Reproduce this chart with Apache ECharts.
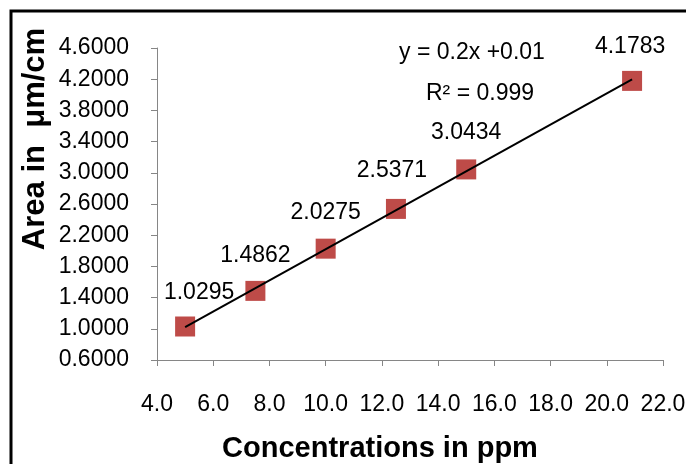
<!DOCTYPE html>
<html><head><meta charset="utf-8">
<script src="https://cdn.jsdelivr.net/npm/echarts@6/dist/echarts.min.js"></script>
<style>html,body{margin:0;padding:0;background:#fff}#c{width:686px;height:464px}</style>
</head><body><div id="c"></div>
<script>
var concentrations = [5.0, 7.5, 10.0, 12.5, 15.0, 20.9];
var areas = [1.0295, 1.4862, 2.0275, 2.5371, 3.0434, 4.1783];
var labelOffsets = [[14, 2], [0, 0], [0, 0], [-4, -3], [0, -1], [-2, 1]];
var equationText = 'y = 0.2x +0.01';
var r2Text = 'R² = 0.999';
var xTitle = 'Concentrations in ppm';
var yTitle = 'Area in  μm/cm';

var n = concentrations.length, sx = 0, sy = 0, sxx = 0, sxy = 0;
for (var i = 0; i < n; i++) { sx += concentrations[i]; sy += areas[i]; sxx += concentrations[i]*concentrations[i]; sxy += concentrations[i]*areas[i]; }
var slope = (n*sxy - sx*sy) / (n*sxx - sx*sx), icpt = (sy - slope*sx) / n;
var xmin = Math.min.apply(null, concentrations), xmax = Math.max.apply(null, concentrations);
var trend = [[xmin, slope*xmin + icpt], [xmax, slope*xmax + icpt]];

var FONT = 'Liberation Sans';
var chart = echarts.init(document.getElementById('c'), null, {renderer: 'canvas'});
chart.setOption({
  animation: false,
  backgroundColor: '#fff',
  grid: {left: 157, right: 23, top: 48, bottom: 104, containLabel: false, outerBoundsMode: 'none'},
  xAxis: {
    type: 'value', min: 4, max: 22, interval: 2,
    axisLine: {show: true, lineStyle: {color: '#868686', width: 1}},
    axisTick: {show: true, length: 6, inside: false, lineStyle: {color: '#868686'}},
    axisLabel: {fontFamily: FONT, fontSize: 23, color: '#000', margin: 33, formatter: function(v){return v.toFixed(1);}},
    splitLine: {show: false}
  },
  yAxis: {
    type: 'value', min: 0.6, max: 4.6, interval: 0.4,
    axisLine: {show: true, lineStyle: {color: '#868686', width: 1}},
    axisTick: {show: true, length: 6, inside: false, lineStyle: {color: '#868686'}},
    axisLabel: {fontFamily: FONT, fontSize: 23, color: '#000', margin: 28, formatter: function(v){return v.toFixed(4);}},
    splitLine: {show: false}
  },
  graphic: [
    {type: 'rect', shape: {x: 11, y: 11, width: 700, height: 480}, style: {fill: 'none', stroke: '#000', lineWidth: 3}, silent: true},
    {type: 'text', x: 472, y: 53, style: {text: equationText, font: '23px "Liberation Sans"', fill: '#000', textAlign: 'center', textVerticalAlign: 'middle'}},
    {type: 'text', x: 480, y: 94, style: {text: r2Text, font: '23px "Liberation Sans"', fill: '#000', textAlign: 'center', textVerticalAlign: 'middle'}},
    {type: 'text', x: 380, y: 449, style: {text: xTitle, font: 'bold 29px "Liberation Sans"', fill: '#000', textAlign: 'center', textVerticalAlign: 'middle'}},
    {type: 'text', x: 35, y: 139, rotation: Math.PI/2, style: {text: yTitle, font: 'bold 31px "Liberation Sans"', fill: '#000', textAlign: 'center', textVerticalAlign: 'middle'}}
  ],
  series: [
    {
      type: 'line', data: trend, showSymbol: false, symbol: 'none',
      lineStyle: {color: '#000', width: 2}, z: 3, silent: true
    },
    {
      type: 'scatter', symbol: 'rect', symbolSize: 20, z: 2,
      itemStyle: {color: '#BE4B48', opacity: 1},
      data: concentrations.map(function(x, i){
        return {value: [x, areas[i]], label: {offset: labelOffsets[i]}};
      }),
      label: {
        show: true, position: 'top', distance: 14,
        fontFamily: FONT, fontSize: 23, color: '#000',
        formatter: function(p){ return p.value[1].toFixed(4); }
      }
    }
  ]
});
</script></body></html>
